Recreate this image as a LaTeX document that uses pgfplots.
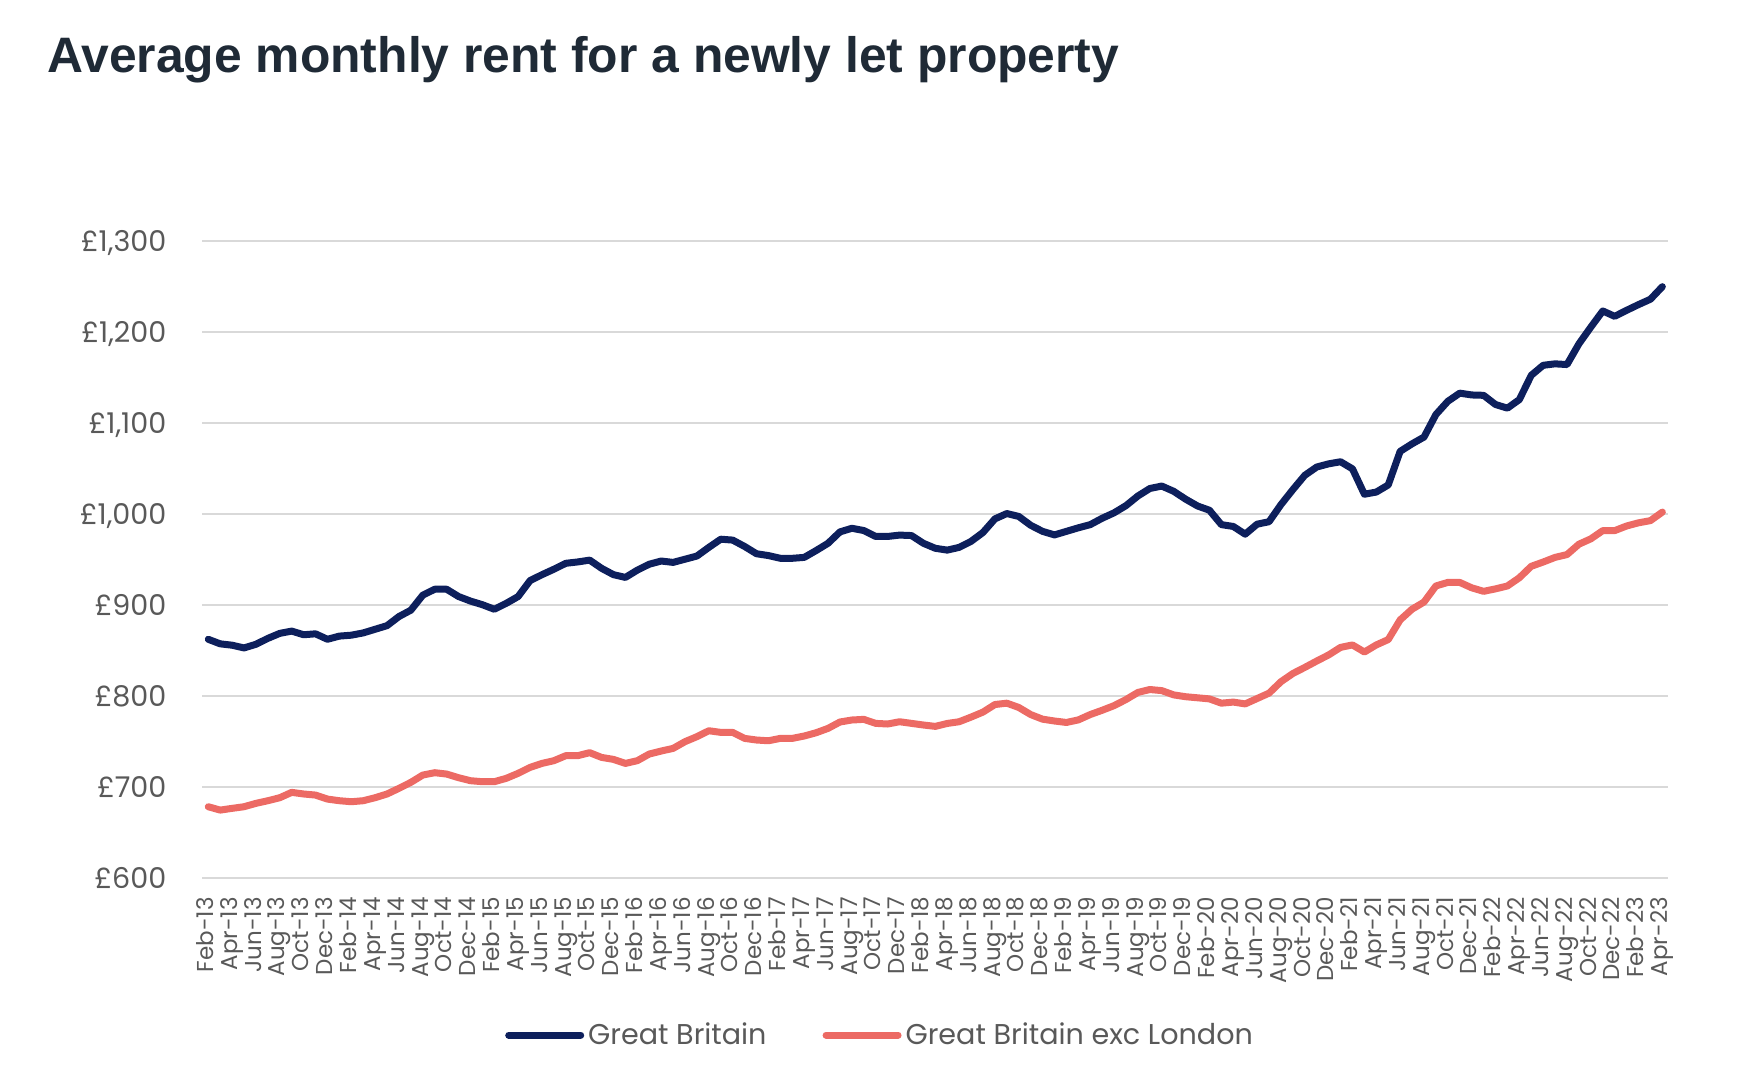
\documentclass[border=0pt]{standalone}
\usepackage{fontspec}
\usepackage{pgfplots}
\usepackage{pgfplotstable}
\pgfplotsset{compat=1.18}
\setmainfont{Poppins}
\newfontfamily\titlefont{Liberation Sans}
\definecolor{navy}{HTML}{0D1F5C}
\definecolor{coral}{HTML}{EC6A64}
\definecolor{gridgray}{HTML}{D9D9D9}
\definecolor{labelgray}{HTML}{595959}
\definecolor{titlecol}{HTML}{1F2A36}

% month index (0 = Feb-13), Great Britain, Great Britain exc London
\pgfplotstableread{
m gb ex
0 862 678
1 857 674.3
2 855.5 676.2
3 852.5 678
4 856.5 681.7
5 863 684.6
6 868.5 687.9
7 871 693.8
8 867 692
9 868 690.8
10 862 686.4
11 865.5 684.6
12 866.5 683.5
13 869 684.6
14 873 687.9
15 877 692
16 887 698.2
17 894 704.8
18 910.5 712.8
19 917 715.4
20 917 713.9
21 909 709.9
22 904 706.6
23 900 705.5
24 895 705.5
25 901.5 709.2
26 909 714.7
27 926.5 721.2
28 933 725.6
29 939 728.6
30 945.5 734.1
31 947 734.1
32 949 737.4
33 940 732.2
34 933 730
35 930 725.6
36 938 728.6
37 944.5 735.9
38 948 739.2
39 946.5 742.1
40 950 749.5
41 953.5 755
42 963 761.5
43 972 759.7
44 971 759.7
45 964 753.1
46 956 751.3
47 954 750.5
48 951 753.1
49 951 753.1
50 952 755.7
51 959.5 759.3
52 967.5 764.1
53 980 771.1
54 984 773.3
55 981.5 774
56 975 769.6
57 975 768.9
58 976.5 771.4
59 976 769.6
60 967.5 767.8
61 962 766.3
62 960 769.5
63 963 771.4
64 969.6 776.5
65 979.4 782
66 994.3 790.3
67 1000.2 791.8
68 997 787.1
69 987.3 779.3
70 980.6 774.2
71 976.7 772.2
72 980.6 770.6
73 984.5 773.4
74 988 779.3
75 995 784
76 1001 789.1
77 1008.9 795.8
78 1019.5 803.6
79 1027.7 806.8
80 1030.4 805.6
81 1024.6 800.9
82 1016 798.9
83 1008.5 797.7
84 1003.8 796.5
85 988 791.8
86 986 793
87 977.5 791
88 988.5 796.9
89 991.2 802.8
90 1010 815.4
91 1026.5 824.4
92 1042.2 831.1
93 1051.3 838.1
94 1054.8 844.8
95 1057.1 853.1
96 1049.3 855.8
97 1021.4 848
98 1023.8 855.8
99 1031.6 861.7
100 1068.5 883.3
101 1076.8 895.1
102 1084.2 902.9
103 1109 920.6
104 1123.5 924.5
105 1132.5 924.5
106 1130.5 918.6
107 1130.1 914.7
108 1120 917.4
109 1116 920.6
110 1125.4 929.6
111 1152.1 942.2
112 1163.1 946.9
113 1164.7 952
114 1163.9 955.1
115 1186.7 966.5
116 1205.1 972.4
117 1222.8 981.4
118 1216.9 981.4
119 1223.5 986.5
120 1229.8 990
121 1235.7 992.4
122 1249.5 1001.8
}\rent

\begin{document}
\begin{tikzpicture}
\useasboundingbox (0,0) rectangle (877pt,544pt);
\node[anchor=base west, inner sep=0pt, text=titlecol,
      font=\titlefont\bfseries\fontsize{24.9}{28}\selectfont]
  at (23.5pt,507.5pt) {Average monthly rent for a newly let property};
\begin{axis}[
    at={(101.15pt,105.15pt)}, anchor=south west,
    scale only axis, width=733pt, height=318.5pt,
    xmin=-0.5, xmax=122.5, ymin=600, ymax=1300,
    axis line style={draw=none},
    ymajorgrids, grid style={gridgray, line width=1.1pt},
    ytick={600,700,...,1300},
    yticklabels={£600,£700,£800,£900,{£1,000},{£1,100},{£1,200},{£1,300}},
    ytick style={draw=none},
    yticklabel style={font=\fontsize{14.3}{16}\selectfont, text=labelgray,
                      anchor=east, inner sep=0pt, text depth=0pt},
    yticklabel shift=17.8pt,
    xtick={0,2,...,122},
    xticklabels={Feb-13,Apr-13,Jun-13,Aug-13,Oct-13,Dec-13,
      Feb-14,Apr-14,Jun-14,Aug-14,Oct-14,Dec-14,
      Feb-15,Apr-15,Jun-15,Aug-15,Oct-15,Dec-15,
      Feb-16,Apr-16,Jun-16,Aug-16,Oct-16,Dec-16,
      Feb-17,Apr-17,Jun-17,Aug-17,Oct-17,Dec-17,
      Feb-18,Apr-18,Jun-18,Aug-18,Oct-18,Dec-18,
      Feb-19,Apr-19,Jun-19,Aug-19,Oct-19,Dec-19,
      Feb-20,Apr-20,Jun-20,Aug-20,Oct-20,Dec-20,
      Feb-21,Apr-21,Jun-21,Aug-21,Oct-21,Dec-21,
      Feb-22,Apr-22,Jun-22,Aug-22,Oct-22,Dec-22,
      Feb-23,Apr-23},
    xtick style={draw=none},
    xtick pos=bottom,
    xticklabel style={font=\fontsize{11.5}{13}\selectfont, text=labelgray,
                      rotate=90, anchor=east, inner sep=0pt,
                      text height=0.72em, text depth=0.2em},
    xticklabel shift=9.5pt,
    extra x ticks={-0.5,1.5,...,121.5},
    extra x tick labels={},
    extra x tick style={major tick length=7pt, tick align=outside,
                        tick style={draw=gridgray, line width=1pt}},
    legend columns=2,
    legend style={at={(0.463,-0.247)}, anchor=center, draw=none,
                  font=\fontsize{14.3}{16}\selectfont, text=labelgray,
                  /tikz/every even column/.append style={column sep=26pt}},
    legend image code/.code={\draw[#1, line cap=round] (0pt,0pt) -- (36pt,0pt);},
    every axis plot/.append style={line width=3.5pt, line join=round, line cap=round},
]
\addplot[navy] table[x=m, y=gb] {\rent};
\addplot[coral] table[x=m, y=ex] {\rent};
\legend{Great Britain, Great Britain exc London}
\end{axis}
\end{tikzpicture}
\end{document}
